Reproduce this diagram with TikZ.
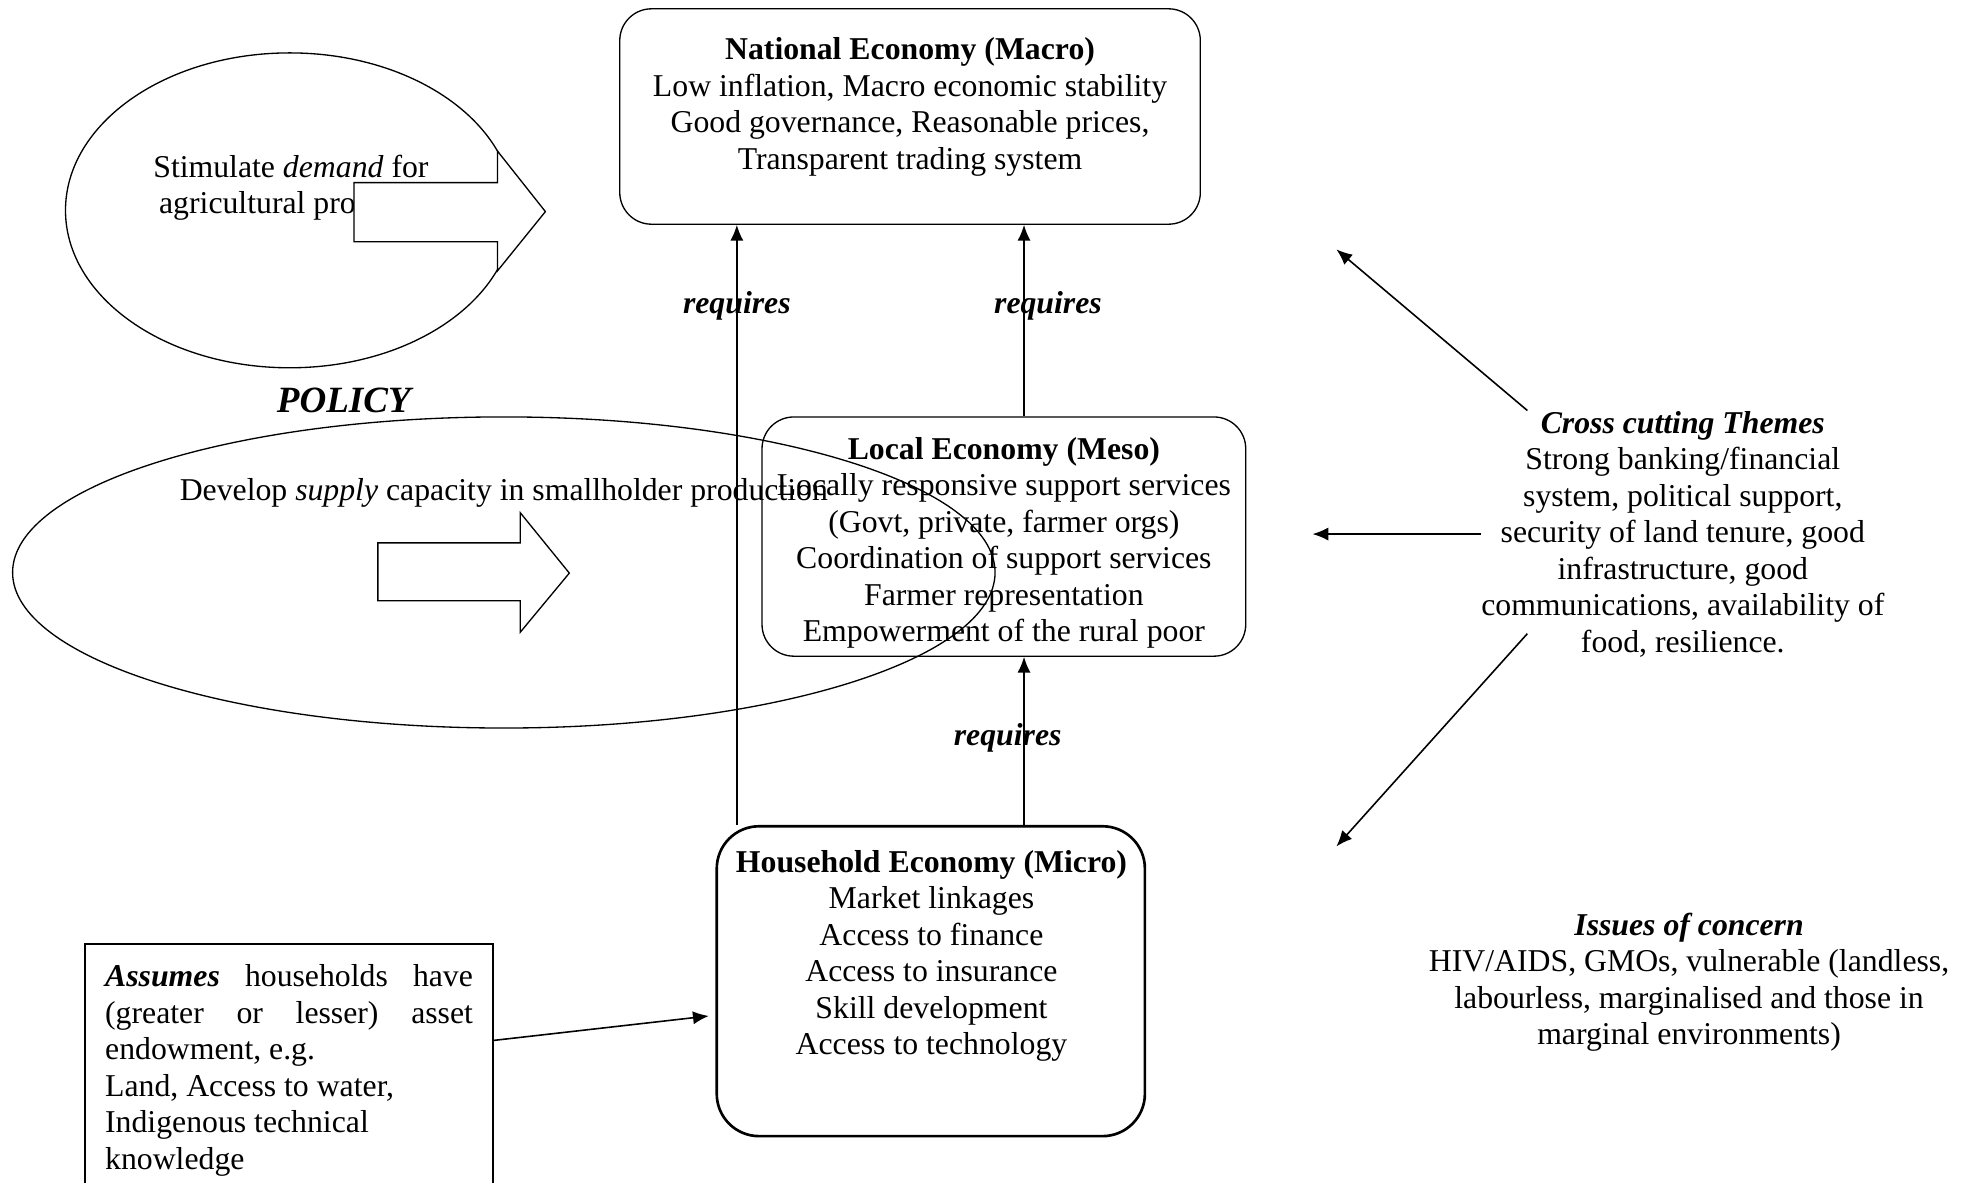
\documentclass[tikz,border=0pt]{standalone}
\usepackage{fontspec}
\setmainfont{Liberation Serif}
\usetikzlibrary{arrows.meta,calc}

\begin{document}
\begin{tikzpicture}[x=0.476pt,y=0.476pt,yscale=-1,xscale=1,
  every node/.style={font=\fontsize{12}{13.8}\selectfont, inner sep=0pt},
  ecobox/.style={draw, rounded corners=12pt, line width=0.5pt},
  txt/.style={align=center},
  lbl/.style={font=\fontsize{12}{13.8}\selectfont\bfseries\itshape},
  flow/.style={-{Latex[length=6pt,width=5pt]}, line width=0.6pt},
  bigarrow/.style={draw, fill=white, line width=0.5pt}]
\useasboundingbox (0,0) rectangle (1568,939);
\clip (0,0) rectangle (1568,939);

%Shape: Ellipse
\draw [line width=0.5pt] (230,167) ellipse (178 and 125);
% Text Node
\node [txt] (demand) at (231,149) {Stimulate \textit{demand} for\\agricultural products};
%Shape: Right Arrow
\draw [bigarrow] (281,145) -- (395,145) -- (395,120) -- (433,168) -- (395,215) -- (395,192) -- (281,192) -- cycle;

% Text Node
\node [font=\fontsize{14}{16}\selectfont\bfseries\itshape] (policy) at (273,318) {POLICY};

%Shape: Ellipse
\draw [line width=0.5pt] (400,454.5) ellipse (390 and 123.5);
% Text Node
\node (supply) at (400,391) {Develop \textit{supply} capacity in smallholder production};
%Shape: Right Arrow
\draw [bigarrow] (300,431) -- (413,431) -- (413,407) -- (452,455) -- (413,502) -- (413,477) -- (300,477) -- cycle;

%Rounded Rect
\node [ecobox, minimum width=219.4pt, minimum height=81.4pt] (macro) at (722.5,92.5) {};
\node [txt] (macrotext) at (722.5,85) {\textbf{National Economy (Macro)}\\Low inflation, Macro economic stability\\Good governance, Reasonable prices,\\Transparent trading system};
%Rounded Rect
\node [ecobox, minimum width=182.8pt, minimum height=90.4pt] (meso) at (797,426) {};
\node [txt] (mesotext) at (797,431) {\textbf{Local Economy (Meso)}\\Locally responsive support services\\(Govt, private, farmer orgs)\\Coordination of support services\\Farmer representation\\Empowerment of the rural poor};
%Rounded Rect
\node [ecobox, line width=1pt, rounded corners=16pt, minimum width=161.8pt, minimum height=117.1pt] (micro) at (739,779) {};
\node [txt] (microtext) at (739.5,759) {\textbf{Household Economy (Micro)}\\Market linkages\\Access to finance\\Access to insurance\\Skill development\\Access to technology};

%Straight Lines
\draw [flow] (585,0 |- micro.north) -- (585,0 |- macro.south);
\draw [flow] (813,0 |- meso.north) -- (813,0 |- macro.south);
\draw [flow] (813,0 |- micro.north) -- (813,0 |- meso.south);
% Text Node
\node [lbl] (req1) at (585,243) {requires};
\node [lbl] (req2) at (832,243) {requires};
\node [lbl] (req3) at (800,586) {requires};

% Text Node
\node [txt] (cross) at (1336,424) {\textbf{\textit{Cross cutting Themes}}\\Strong banking/financial\\system, political support,\\security of land tenure, good\\infrastructure, good\\communications, availability of\\food, resilience.};
\coordinate (macroside) at (1061,198);
\coordinate (mesoside) at (1042,426);
\coordinate (microside) at (1061,672);
%Straight Lines
\draw [flow] ($(cross.north west)+(37,0)$) -- (macroside);
\draw [flow] (cross.west) -- (cross.west -| mesoside);
\draw [flow] ($(cross.south west)+(37,-19)$) -- (microside);

% Text Node
\node [txt] (issues) at (1341,780) {\textbf{\textit{Issues of concern}}\\HIV/AIDS, GMOs, vulnerable (landless,\\labourless, marginalised and those in\\marginal environments)};

% Text Node
\node [draw, line width=0.5pt, anchor=north west, text width=139pt, align=justify, inner xsep=7.6pt, inner ysep=7.7pt] (assumes) at (67,749) {\textbf{\textit{Assumes}} households have\linebreak (greater or lesser) asset\linebreak endowment, e.g.\\Land, Access to water,\\Indigenous technical\\knowledge};
%Straight Lines
\draw [flow, shorten >=2.5pt] (assumes.east |- 0,826) -- (micro.west |- 0,806);

\end{tikzpicture}
\end{document}
